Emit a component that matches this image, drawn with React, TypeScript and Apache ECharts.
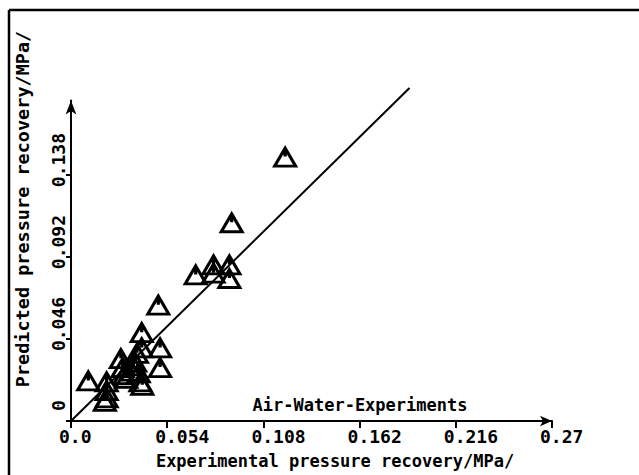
import React, { useEffect, useRef } from "react";
import * as echarts from "echarts";

// Experimental (x) vs predicted (y) pressure recovery, MPa
const expX = [
  0.0097, 0.020, 0.020, 0.020, 0.019, 0.028, 0.029, 0.030, 0.031, 0.034,
  0.036, 0.037, 0.038, 0.039, 0.040, 0.0397, 0.0397, 0.035, 0.050, 0.050,
  0.049, 0.070, 0.080, 0.0889, 0.080, 0.0889, 0.0902, 0.1202,
];
const predY = [
  0.0225, 0.022, 0.017, 0.013, 0.011, 0.035, 0.030, 0.026, 0.024, 0.028,
  0.033, 0.038, 0.027, 0.022, 0.020, 0.0496, 0.041, 0.031, 0.041, 0.030,
  0.065, 0.082, 0.0876, 0.0876, 0.083, 0.080, 0.1113, 0.1482,
];
const diagX = [0, 0.19];
const diagY = [0, 0.187];

const xTickLabels = ["0.0", "0.054", "0.108", "0.162", "0.216", "0.27"];
const yTickLabels = ["0", "0.046", "0.092", "0.138"];

const FONT = "DejaVu Sans Mono";
const TRI = "path://M10,0 L20,17 L0,17 Z M10,3 L10,8";

export default function App() {
  const ref = useRef<HTMLDivElement>(null);
  useEffect(() => {
    if (!ref.current) return;
    const chart = echarts.init(ref.current, null, { renderer: "svg" });
    const pts = expX.map((x, i) => [x, predY[i]]);
    const diag = diagX.map((x, i) => [x, diagY[i]]);
    chart.setOption({
      animation: false,
      backgroundColor: "#ffffff",
      grid: { left: 71, right: 87, top: 100.4, bottom: 54, containLabel: false },
      xAxis: {
        type: "value",
        min: 0,
        max: 0.27,
        interval: 0.054,
        splitLine: { show: false },
        axisLine: {
          onZero: false,
          symbol: ["none", "arrow"],
          symbolSize: [8, 12],
          lineStyle: { color: "#000", width: 2 },
        },
        axisTick: { show: true, length: 7, lineStyle: { color: "#000", width: 2 } },
        axisLabel: {
          color: "#000",
          fontFamily: FONT,
          fontWeight: "bold",
          fontSize: 18,
          margin: 6,
          align: "left",
          padding: [0, 0, 0, -12],
          formatter: (_v: number, i: number) => xTickLabels[i] ?? "",
        },
      },
      yAxis: {
        type: "value",
        min: 0,
        max: 0.18,
        interval: 0.046,
        splitLine: { show: false },
        axisLine: {
          onZero: false,
          symbol: ["none", "arrow"],
          symbolSize: [8, 14],
          lineStyle: { color: "#000", width: 2 },
        },
        axisTick: { show: true, length: 5, lineStyle: { color: "#000", width: 2 } },
        axisLabel: {
          color: "#000",
          fontFamily: FONT,
          fontWeight: "bold",
          fontSize: 18,
          margin: 4,
          rotate: 90,
          align: "left",
          verticalAlign: "bottom",
          padding: [0, 0, 0, -12],
          showMaxLabel: false,
          formatter: (_v: number, i: number) =>
            i === 0 ? "{z|" + yTickLabels[0] + "}" : yTickLabels[i] ?? "",
          rich: {
            z: {
              fontFamily: FONT,
              fontWeight: "bold",
              fontSize: 18,
              color: "#000",
              padding: [0, 0, 0, 22],
            },
          },
        },
      },
      series: [
        {
          type: "line",
          data: diag,
          symbol: "none",
          clip: false,
          lineStyle: { color: "#000", width: 2 },
          z: 2,
        },
        {
          type: "scatter",
          data: pts,
          symbol: TRI,
          symbolSize: [21, 18],
          itemStyle: {
            color: "rgba(255,255,255,0)",
            borderColor: "#000",
            borderWidth: 3,
            opacity: 1,
          },
          z: 3,
        },
      ],
      graphic: [
        { type: "line", shape: { x1: 9, y1: 10, x2: 639, y2: 10 }, style: { stroke: "#000", lineWidth: 2.5 } },
        { type: "line", shape: { x1: 9, y1: 10, x2: 9, y2: 475 }, style: { stroke: "#000", lineWidth: 2.5 } },
        {
          type: "text",
          x: 335,
          y: 461,
          style: {
            text: "Experimental pressure recovery/MPa/",
            fontFamily: FONT,
            fontWeight: "bold",
            fontSize: 17,
            fill: "#000",
            textAlign: "center",
            textVerticalAlign: "middle",
          },
        },
        {
          type: "text",
          x: 22,
          y: 209,
          rotation: Math.PI / 2,
          style: {
            text: "Predicted pressure recovery/MPa/",
            fontFamily: FONT,
            fontWeight: "bold",
            fontSize: 18.5,
            fill: "#000",
            textAlign: "center",
            textVerticalAlign: "middle",
          },
        },
        {
          type: "text",
          x: 360,
          y: 405,
          style: {
            text: "Air-Water-Experiments",
            fontFamily: FONT,
            fontWeight: "bold",
            fontSize: 17,
            fill: "#000",
            textAlign: "center",
            textVerticalAlign: "middle",
          },
        },
      ],
    });
    return () => chart.dispose();
  }, []);
  return (
    <div
      ref={ref}
      style={{ position: "fixed", left: 0, top: 0, width: 639, height: 475, background: "#fff" }}
    />
  );
}
